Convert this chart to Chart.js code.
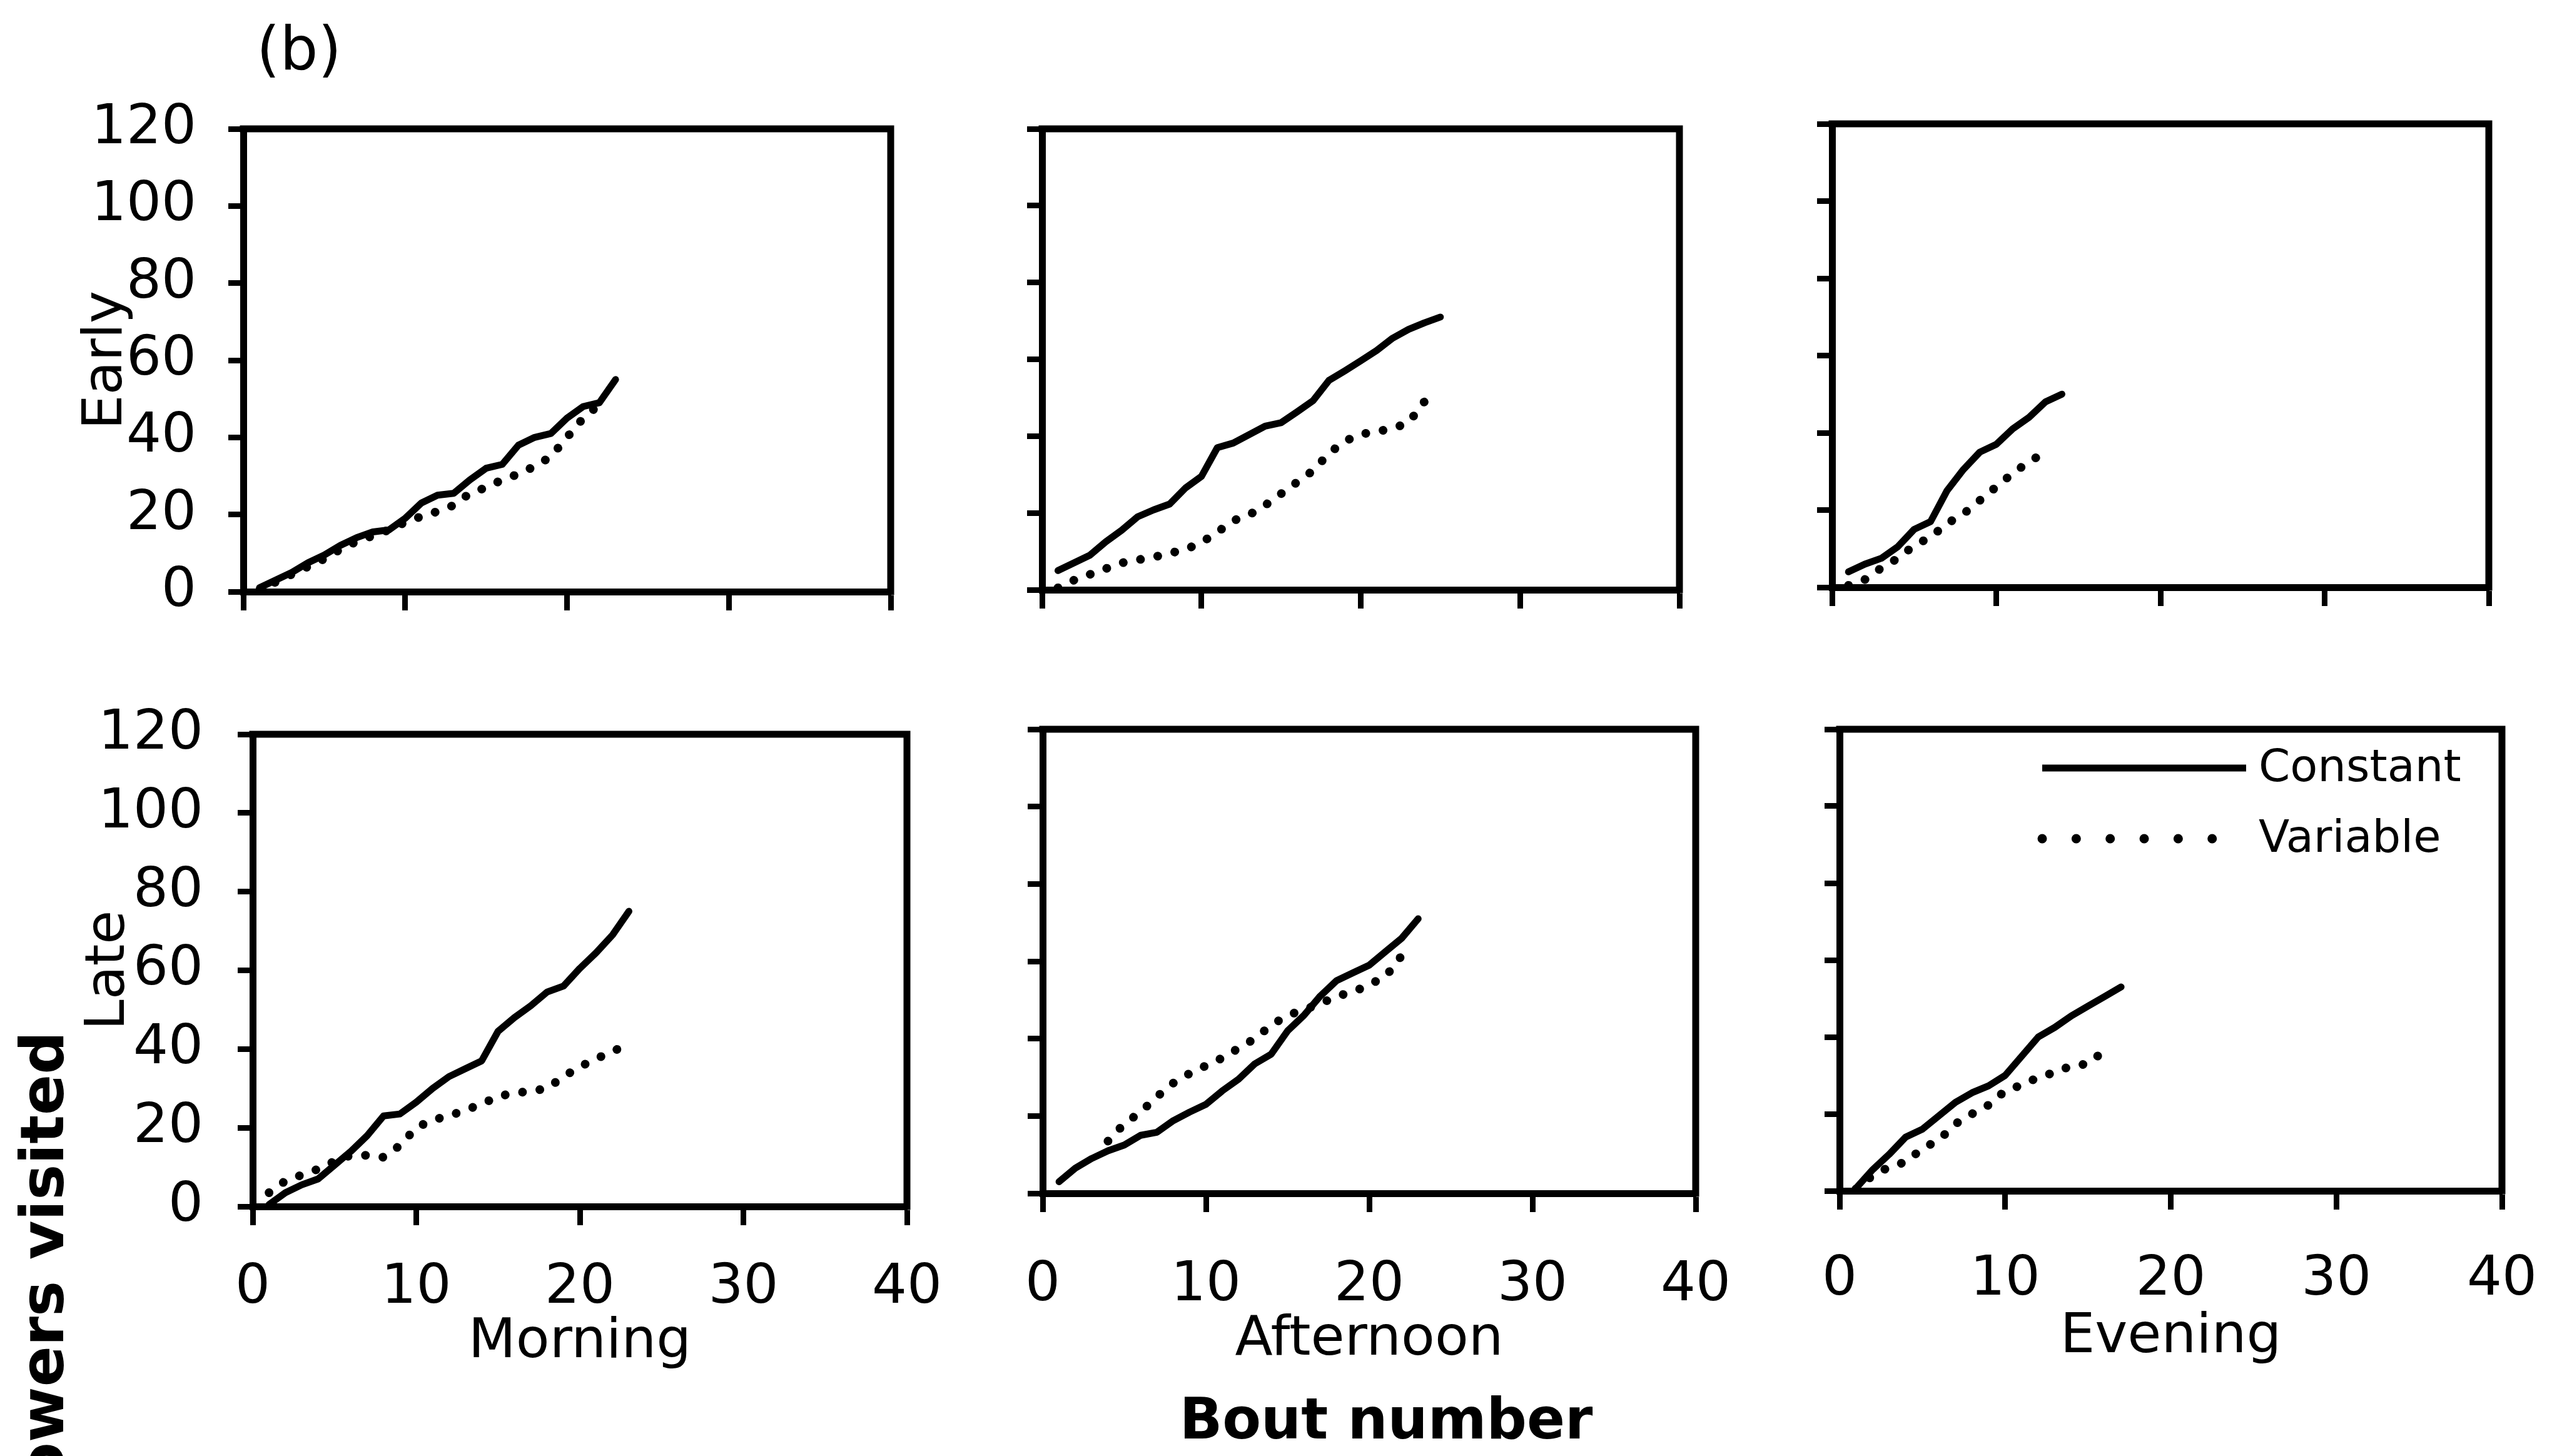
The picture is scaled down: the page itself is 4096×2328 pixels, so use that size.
<!DOCTYPE html>
<html>
<head>
<meta charset="utf-8">
<script src="https://cdn.jsdelivr.net/npm/chart.js@4.4.0/dist/chart.umd.min.js"></script>
<style>
  html, body { margin: 0; padding: 0; background: #fff; }
  #page { position: relative; width: 4096px; height: 2328px; overflow: hidden; background: #fff;
          font-family: 'DejaVu Sans', Verdana, sans-serif; color: #000; }
  #page canvas { position: absolute; }
  .label { position: absolute; white-space: nowrap; line-height: 1; }
  #panelTag { left: 478px; top: 78px; font-size: 96px; transform: translate(-50%, -50%); }
  #xTitle { left: 2216px; top: 2269px; font-size: 90px; font-weight: bold; transform: translate(-50%, -50%); }
  #yTitle { left: 20px; top: 2400px; font-size: 96px; font-weight: bold; transform-origin: 0 0; transform: rotate(-90deg); }
</style>
</head>
<body>
<div id="page">
  <div class="label" id="panelTag">(b)</div>
  <div class="label" id="xTitle">Bout number</div>
  <div class="label" id="yTitle">owers visited</div>
</div>
<script>
// bout numbers and axis ticks
const bouts = [1, 2, 3, 4, 5, 6, 7, 8, 9, 10, 11, 12, 13, 14, 15, 16, 17, 18, 19, 20, 21, 22, 23, 24, 25];
const xTickValues = [0, 10, 20, 30, 40];
const yTickValues = [0, 20, 40, 60, 80, 100, 120];

const rowNames = ['Early', 'Late'];
const columnNames = ['Morning', 'Afternoon', 'Evening'];
const seriesNames = ['Constant', 'Variable'];

// flowers visited (one value per bout)
const earlyMorningConstant = [1, 3, 5, 7.5, 9.5, 12, 14, 15.5, 16, 19, 23, 25, 25.5, 29, 32, 33, 38, 40, 41, 45, 48, 49, 55];
const earlyMorningVariable = [0.3, 2.5, 4.5, 6.5, 8.5, 11, 13, 14.5, 16, 18, 19.5, 20.8, 22.4, 25.5, 27, 29, 30.5, 32.5, 35, 40, 45, 48.5];

const earlyAfternoonConstant = [5, 7, 9, 12.5, 15.5, 19, 20.8, 22.3, 26.5, 29.5, 37, 38.2, 40.4, 42.6, 43.5, 46.3, 49.2, 54.5, 57, 59.6, 62.3, 65.5, 67.8, 69.5, 71];
const earlyAfternoonVariable = [0.5, 2.5, 4, 5.5, 7, 7.8, 8.5, 9.5, 10.5, 12.3, 15, 18, 19.5, 22, 25, 28, 31, 35.5, 38.7, 40.5, 41.2, 42, 43.5, 49];

const earlyEveningConstant = [4, 6, 7.5, 10.5, 15, 17, 25, 30.5, 35, 37, 41, 44, 48, 50];
const earlyEveningVariable = [0.5, 2, 5, 7.5, 10.8, 13, 16.5, 19, 22.5, 26, 29.5, 32.5, 35];

const lateMorningConstant = [0.5, 3.5, 5.5, 7, 10.5, 14, 18, 23, 23.5, 26.5, 30, 33, 35, 37, 44.5, 48, 51, 54.5, 56, 60.5, 64.5, 69, 75];
const lateMorningVariable = [3.5, 6.5, 8, 9.5, 11.5, 13, 13, 12.5, 15.5, 20, 22, 23, 24.5, 26, 28, 28.8, 29.3, 30, 33, 35.5, 37.5, 39.5, 41];

const lateAfternoonConstant = [3, 6.5, 9, 11, 12.5, 15, 15.8, 18.8, 21, 23, 26.5, 29.5, 33.5, 36, 42, 46, 51, 55, 57, 59, 62.5, 66, 71];
const lateAfternoonVariable = [null, null, null, 13.5, 18, 21, 25, 28.5, 31, 33, 35, 37.5, 40, 43.5, 46, 47.5, 49, 51, 52, 54, 56, 61.5];

const lateEveningConstant = [0.7, 5.5, 9.5, 14, 16, 19.5, 23, 25.5, 27.3, 30, 35, 40, 42.5, 45.5, 48, 50.5, 53];
const lateEveningVariable = [0.5, 4, 6.2, 7.5, 11, 13.2, 17.4, 20, 22.3, 26, 27.5, 29.5, 30.8, 32.5, 33, 36.5];

Chart.defaults.font.family = "'DejaVu Sans', Verdana, sans-serif";
Chart.defaults.color = '#000';

const page = document.getElementById('page');
const AXIS_W = 11;

// draws the top and right sides of the box
const framePlugin = {
  id: 'frame',
  afterDraw(chart) {
    const { ctx, chartArea: a } = chart;
    ctx.save();
    ctx.strokeStyle = '#000';
    ctx.lineWidth = AXIS_W;
    ctx.lineCap = 'square';
    ctx.beginPath();
    ctx.moveTo(a.left, a.top);
    ctx.lineTo(a.right, a.top);
    ctx.lineTo(a.right, a.bottom);
    ctx.stroke();
    ctx.restore();
  }
};

// legend inside the last panel
const legendPlugin = {
  id: 'boxLegend',
  afterDraw(chart) {
    const { ctx, chartArea: a } = chart;
    const x0 = a.left + 324, x1 = a.left + 650;
    const rows = [a.top + 62, a.top + 175];
    ctx.save();
    chart.data.datasets.forEach((ds, i) => {
      const y = rows[i];
      const dotted = ds.borderDash.length > 0;
      ctx.strokeStyle = '#000';
      ctx.lineCap = dotted ? 'round' : 'butt';
      ctx.lineWidth = dotted ? 15 : 11;
      ctx.setLineDash(dotted ? [0.01, (x1 - x0) / 6] : []);
      ctx.beginPath();
      ctx.moveTo(x0, y);
      ctx.lineTo(x1, y);
      ctx.stroke();
      ctx.setLineDash([]);
      ctx.fillStyle = '#000';
      ctx.font = "72px 'DejaVu Sans', Verdana, sans-serif";
      ctx.textBaseline = 'middle';
      ctx.textAlign = 'left';
      ctx.fillText(ds.label, x1 + 20, y + 2);
    });
    ctx.restore();
  }
};

const panels = [
  { row: 0, col: 0, constant: earlyMorningConstant, variable: earlyMorningVariable,
    box: { left: 389, right: 1424, top: 206, bottom: 946 }, yW: 271, xH: 115, pt: 115, pr: 14, yLabels: true, xLabels: false, yPad: 51 },
  { row: 0, col: 1, constant: earlyAfternoonConstant, variable: earlyAfternoonVariable,
    box: { left: 1666, right: 2685, top: 206, bottom: 943 }, yW: 40, xH: 40, pt: 14, pr: 14, yLabels: false, xLabels: false },
  { row: 0, col: 2, constant: earlyEveningConstant, variable: earlyEveningVariable,
    box: { left: 2929, right: 3979, top: 198, bottom: 939 }, yW: 40, xH: 40, pt: 14, pr: 14, yLabels: false, xLabels: false },
  { row: 1, col: 0, constant: lateMorningConstant, variable: lateMorningVariable,
    box: { left: 404, right: 1450, top: 1174, bottom: 1929 }, yW: 282, xH: 271, pt: 120, pr: 130, yLabels: true, xLabels: true, xPad: 48, yPad: 55 },
  { row: 1, col: 1, constant: lateAfternoonConstant, variable: lateAfternoonVariable,
    box: { left: 1667, right: 2711, top: 1166, bottom: 1908 }, yW: 110, xH: 288, pt: 14, pr: 130, yLabels: false, xLabels: true, xPad: 65 },
  { row: 1, col: 2, constant: lateEveningConstant, variable: lateEveningVariable,
    box: { left: 2941, right: 4000, top: 1166, bottom: 1904 }, yW: 110, xH: 288, pt: 14, pr: 130, yLabels: false, xLabels: true, xPad: 60, legend: true }
];

function makePanel(p) {
  const canvas = document.createElement('canvas');
  const w = p.yW + (p.box.right - p.box.left) + p.pr;
  const h = p.pt + (p.box.bottom - p.box.top) + p.xH;
  canvas.width = w;
  canvas.height = h;
  canvas.style.left = (p.box.left - p.yW) + 'px';
  canvas.style.top = (p.box.top - p.pt) + 'px';
  canvas.style.width = w + 'px';
  canvas.style.height = h + 'px';
  page.appendChild(canvas);

  const plugins = [framePlugin];
  if (p.legend) plugins.push(legendPlugin);

  new Chart(canvas, {
    type: 'line',
    data: {
      labels: bouts,
      datasets: [
        {
          label: seriesNames[0],
          data: p.constant,
          borderColor: '#000',
          borderWidth: 11,
          borderDash: [],
          borderJoinStyle: 'round',
          borderCapStyle: 'round',
          pointRadius: 0,
          fill: false,
          tension: 0
        },
        {
          label: seriesNames[1],
          data: p.variable,
          borderColor: '#000',
          borderWidth: 14,
          borderDash: [0.01, 28],
          borderCapStyle: 'round',
          pointRadius: 0,
          fill: false,
          tension: 0
        }
      ]
    },
    options: {
      responsive: false,
      devicePixelRatio: 1,
      animation: false,
      events: [],
      layout: { padding: { left: 0, right: p.pr, top: p.pt, bottom: 0 } },
      plugins: { legend: { display: false }, tooltip: { enabled: false } },
      scales: {
        x: {
          type: 'linear',
          min: 0,
          max: 40,
          afterBuildTicks: s => { s.ticks = xTickValues.map(v => ({ value: v })); },
          afterFit: s => { s.height = p.xH; },
          ticks: { display: p.xLabels, font: { size: 88 }, padding: p.xPad || 0, maxRotation: 0, autoSkip: false },
          grid: { drawOnChartArea: false, drawTicks: true, tickLength: 30, tickWidth: 9, tickColor: '#000' },
          border: { display: true, width: AXIS_W, color: '#000' },
          title: { display: p.xLabels, text: columnNames[p.col], font: { size: 88 }, padding: 0 }
        },
        y: {
          type: 'linear',
          min: 0,
          max: 120,
          afterBuildTicks: s => { s.ticks = yTickValues.map(v => ({ value: v })); },
          afterFit: s => { s.width = p.yW; },
          ticks: { display: p.yLabels, font: { size: 88 }, padding: p.yPad || 0, autoSkip: false },
          grid: { drawOnChartArea: false, drawTicks: true, tickLength: 24, tickWidth: 9, tickColor: '#000' },
          border: { display: true, width: AXIS_W, color: '#000' },
          title: { display: p.col === 0, text: rowNames[p.row], font: { size: 88 }, padding: 0 }
        }
      }
    },
    plugins: plugins
  });
}

panels.forEach(makePanel);

// rotated left title: its upper end sits just below the "Late" label
const yTitle = document.getElementById('yTitle');
yTitle.style.top = (1649 + yTitle.offsetWidth) + 'px';
</script>
</body>
</html>
